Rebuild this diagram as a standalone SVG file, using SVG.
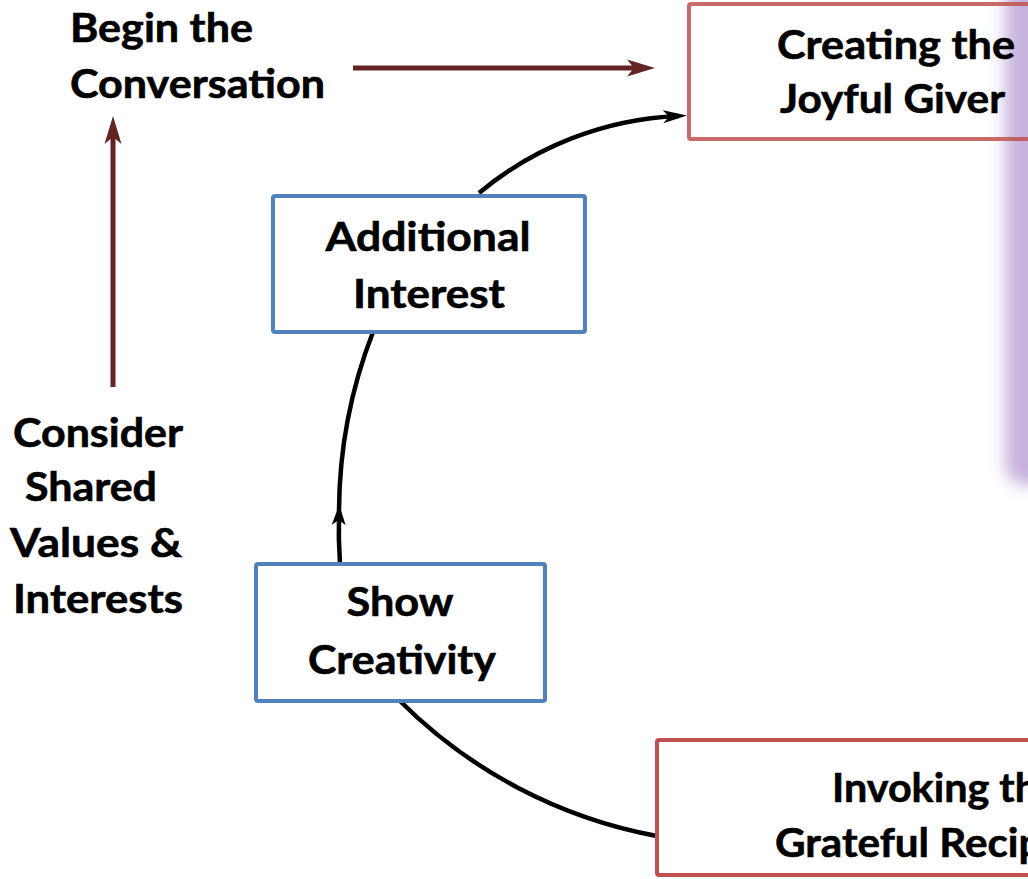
<svg xmlns="http://www.w3.org/2000/svg" width="1028" height="879" viewBox="0 0 1028 879">
<style>
text{font-family:Lato,"Open Sans","Liberation Sans",sans-serif;font-weight:bold;font-size:40px;fill:#000;stroke:#000;stroke-width:0.6}
.mid{text-anchor:middle}
.blue{fill:#fff;stroke:#4f81bd;stroke-width:4}
.red{fill:none;stroke:#c0504d;stroke-width:4}
.dr{stroke:#632523;stroke-width:5;fill:none}
.bk{stroke:#000;stroke-width:4.5;fill:none}
</style>
<defs>
<filter id="blur" filterUnits="userSpaceOnUse" x="900" y="-100" width="300" height="700">
<feGaussianBlur stdDeviation="8"/>
</filter>
<marker id="mDR" markerUnits="userSpaceOnUse" viewBox="0 0 30 20" markerWidth="30" markerHeight="20" refX="18" refY="10" orient="auto">
<path d="M0,1.5 L28,10 L0,18.5 L7,10 Z" fill="#632523"/>
</marker>
<marker id="mBK" markerUnits="userSpaceOnUse" viewBox="0 0 26 16" markerWidth="26" markerHeight="16" refX="15" refY="8" orient="auto">
<path d="M0,1.5 L24,8 L0,14.5 L6,8 Z" fill="#000"/>
</marker>
<marker id="mBK2" markerUnits="userSpaceOnUse" viewBox="0 0 22 16" markerWidth="22" markerHeight="16" refX="11" refY="8" orient="auto">
<path d="M0,1 L20,8 L0,15 L5,8 Z" fill="#000"/>
</marker>
</defs>
<rect width="1028" height="879" fill="#fff"/>
<rect x="1005" y="-40" width="120" height="525" rx="20" fill="#c6b2dc" filter="url(#blur)"/>
<g id="connectors">
<path class="dr" d="M353,68 L645,68" marker-end="url(#mDR)"/>
<path class="dr" d="M113,387 L113,126" marker-end="url(#mDR)"/>
<path class="bk" d="M479,193 A334,334 0 0 1 678,116" marker-end="url(#mBK)"/>
<path class="bk" d="M340,564 A500,500 0 0 1 339,514" marker-end="url(#mBK2)"/>
<path class="bk" d="M339,514 A500,500 0 0 1 373,332"/>
<path class="bk" d="M400,701 A490,490 0 0 0 657,836"/>
</g>
<g id="begin">
<text x="70" y="42" textLength="183" lengthAdjust="spacingAndGlyphs">Begin the</text>
<text x="70" y="98" textLength="255" lengthAdjust="spacingAndGlyphs">Conversation</text>
</g>
<g id="consider">
<text class="mid" x="98" y="447" textLength="170" lengthAdjust="spacingAndGlyphs">Consider</text>
<text class="mid" x="91" y="501" textLength="132" lengthAdjust="spacingAndGlyphs">Shared</text>
<text class="mid" x="96" y="557" textLength="172" lengthAdjust="spacingAndGlyphs">Values &amp;</text>
<text class="mid" x="98" y="613" textLength="170" lengthAdjust="spacingAndGlyphs">Interests</text>
</g>
<g id="additional">
<rect class="blue" x="273" y="196" width="312" height="136" rx="2"/>
<text class="mid" x="428" y="251" textLength="205" lengthAdjust="spacingAndGlyphs">Additional</text>
<text class="mid" x="429" y="308" textLength="152" lengthAdjust="spacingAndGlyphs">Interest</text>
</g>
<g id="show">
<rect class="blue" x="256" y="564" width="289" height="137" rx="2"/>
<text class="mid" x="400" y="616" textLength="107" lengthAdjust="spacingAndGlyphs">Show</text>
<text class="mid" x="402" y="674" textLength="188" lengthAdjust="spacingAndGlyphs">Creativity</text>
</g>
<g id="creating">
<rect class="red" x="689" y="4" width="412" height="135" rx="2" stroke-opacity="0.85"/>
<text x="777" y="59" textLength="238" lengthAdjust="spacingAndGlyphs">Creating the</text>
<text x="780" y="113" textLength="225" lengthAdjust="spacingAndGlyphs">Joyful Giver</text>
</g>
<g id="invoking">
<rect class="red" x="657" y="740" width="576" height="135" rx="2"/>
<text x="832" y="802" textLength="228" lengthAdjust="spacingAndGlyphs">Invoking the</text>
<text x="775" y="857" textLength="340" lengthAdjust="spacingAndGlyphs">Grateful Recipient</text>
</g>
</svg>
